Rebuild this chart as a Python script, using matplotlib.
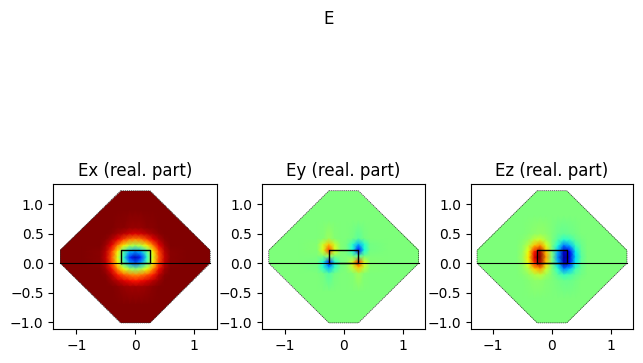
import numpy as np
import matplotlib
matplotlib.use("Agg")
import matplotlib.pyplot as plt
from matplotlib.patches import Polygon

#outline of the domain and of the core
outline_x = [-0.25, 0.25, 1.27, 1.27, 0.25, -0.25, -1.27, -1.27]
outline_y = [1.23, 1.23, 0.22, 0.0, -1.01, -1.01, 0.0, 0.22]
core_x = [-0.25, 0.25, 0.25, -0.25, -0.25]
core_y = [0.0, 0.0, 0.22, 0.22, 0.0]
line_x = [-1.27, 1.27]
line_y = [0.0, 0.0]

titles = ["Ex (real. part)", "Ey (real. part)", "Ez (real. part)"]
xticks = [-1, 0, 1]
yticks = [-1.0, -0.5, 0.0, 0.5, 1.0]

#colours, as position in the jet map (0 to 1), top row first
#the background is what the panel shows away from the core
ex_background = 1.0
ex_x = [-0.6, -0.5, -0.4, -0.3, -0.2, -0.1, 0.0, 0.1, 0.2, 0.3, 0.4, 0.5, 0.6]
ex_y = [0.6, 0.5, 0.4, 0.3, 0.2, 0.1, 0.0, -0.1, -0.2, -0.3, -0.4]
ex_vals = [
    [1.0, 1.0, 1.0, .99, .99, .98, .98, .98, .99, .99, 1.0, 1.0, 1.0],
    [1.0, 1.0, .99, .97, .95, .93, .92, .93, .95, .97, .99, 1.0, 1.0],
    [1.0, .99, .96, .91, .84, .78, .76, .78, .84, .91, .96, .99, 1.0],
    [1.0, .97, .91, .78, .66, .58, .55, .58, .66, .78, .91, .97, 1.0],
    [.99, .95, .84, .66, .46, .32, .27, .32, .46, .66, .84, .95, .99],
    [.99, .94, .82, .62, .40, .17, .05, .17, .40, .62, .82, .94, .99],
    [.99, .95, .84, .66, .46, .30, .22, .30, .46, .66, .84, .95, .99],
    [1.0, .97, .90, .76, .64, .56, .52, .56, .64, .76, .90, .97, 1.0],
    [1.0, .99, .95, .88, .82, .78, .76, .78, .82, .88, .95, .99, 1.0],
    [1.0, 1.0, .98, .95, .92, .90, .89, .90, .92, .95, .98, 1.0, 1.0],
    [1.0, 1.0, 1.0, .99, .98, .97, .97, .97, .98, .99, 1.0, 1.0, 1.0],
]

ey_background = 0.5
ey_x = [-0.45, -0.35, -0.25, -0.15, -0.05, 0.05, 0.15, 0.25, 0.35, 0.45]
ey_y = [0.42, 0.32, 0.22, 0.12, 0.02, -0.08, -0.18]
ey_vals = [
    [.50, .51, .54, .51, .50, .50, .49, .46, .49, .50],
    [.51, .60, .70, .59, .51, .49, .41, .30, .40, .49],
    [.51, .62, .84, .62, .51, .49, .38, .12, .38, .49],
    [.50, .51, .54, .51, .50, .50, .49, .46, .49, .50],
    [.49, .39, .16, .39, .49, .51, .61, .87, .61, .51],
    [.49, .41, .30, .42, .49, .51, .58, .70, .58, .51],
    [.50, .49, .45, .49, .50, .50, .51, .55, .51, .50],
]

ez_background = 0.5
ez_x = [-0.6, -0.5, -0.4, -0.3, -0.2, -0.1, 0.0, 0.1, 0.2, 0.3, 0.4, 0.5, 0.6]
ez_y = [0.5, 0.4, 0.3, 0.2, 0.1, 0.0, -0.1, -0.2, -0.3]
ez_vals = [
    [.50, .50, .51, .52, .53, .52, .50, .48, .47, .48, .49, .50, .50],
    [.50, .51, .53, .58, .60, .55, .50, .45, .40, .42, .47, .49, .50],
    [.50, .52, .58, .70, .76, .62, .50, .38, .24, .30, .42, .48, .50],
    [.50, .53, .64, .88, .96, .70, .50, .30, .06, .12, .36, .47, .50],
    [.50, .54, .66, .92, 1.0, .74, .50, .26, .02, .08, .34, .46, .50],
    [.50, .53, .64, .86, .94, .68, .50, .32, .06, .14, .36, .47, .50],
    [.50, .52, .57, .68, .74, .60, .50, .40, .26, .32, .43, .48, .50],
    [.50, .51, .53, .56, .58, .54, .50, .46, .42, .44, .47, .49, .50],
    [.50, .50, .51, .52, .52, .51, .50, .49, .48, .48, .49, .50, .50],
]

fields = [(ex_x, ex_y, ex_vals, ex_background),
          (ey_x, ey_y, ey_vals, ey_background),
          (ez_x, ez_y, ez_vals, ez_background)]

#axes boxes in pixels: left, right
W, H = 643, 363
boxes = [(53.3, 216.7), (262.0, 425.3), (470.7, 633.3)]
top, bottom = 184.3, 329.3
centres = [135.3, 343.7, 552.0]
scale = 59.0

fig = plt.figure(figsize=(W / 100, H / 100), dpi=100)
fig.text(328.5 / W, 1 - 18.5 / H, "E", ha="center", va="center", fontsize=12)

for i in range(3):
    left, right = boxes[i]
    ax = fig.add_axes([left / W, 1 - bottom / H, (right - left) / W, (bottom - top) / H])
    fx, fy, fv, bg = fields[i]
    #a ring of background just outside the table, then one out past the outline
    xs = np.array([-1.5, fx[0] - 0.3] + fx + [fx[-1] + 0.3, 1.5])
    ys = np.array([1.4, fy[0] + 0.3] + fy + [fy[-1] - 0.3, -1.2])
    zs = np.pad(np.array(fv), 2, mode="constant", constant_values=bg)
    mesh = ax.pcolormesh(xs, ys, zs, cmap="jet", vmin=0, vmax=1, shading="gouraud")
    patch = Polygon(np.column_stack([outline_x, outline_y]), closed=True, fill=False,
                    edgecolor="#333333", lw=0.5, ls=(0, (2, 1)))
    ax.add_patch(patch)
    mesh.set_clip_path(patch)
    ax.plot(core_x, core_y, color="black", lw=1)
    ax.plot(line_x, line_y, color="black", lw=0.8)
    ax.set_xlim((left - centres[i]) / scale, (right - centres[i]) / scale)
    ax.set_ylim((263.3 - bottom) / scale, (263.3 - top) / scale)
    ax.set_xticks(xticks)
    ax.set_yticks(yticks)
    ax.set_title(titles[i])

fig.savefig("out.png", dpi=100)
